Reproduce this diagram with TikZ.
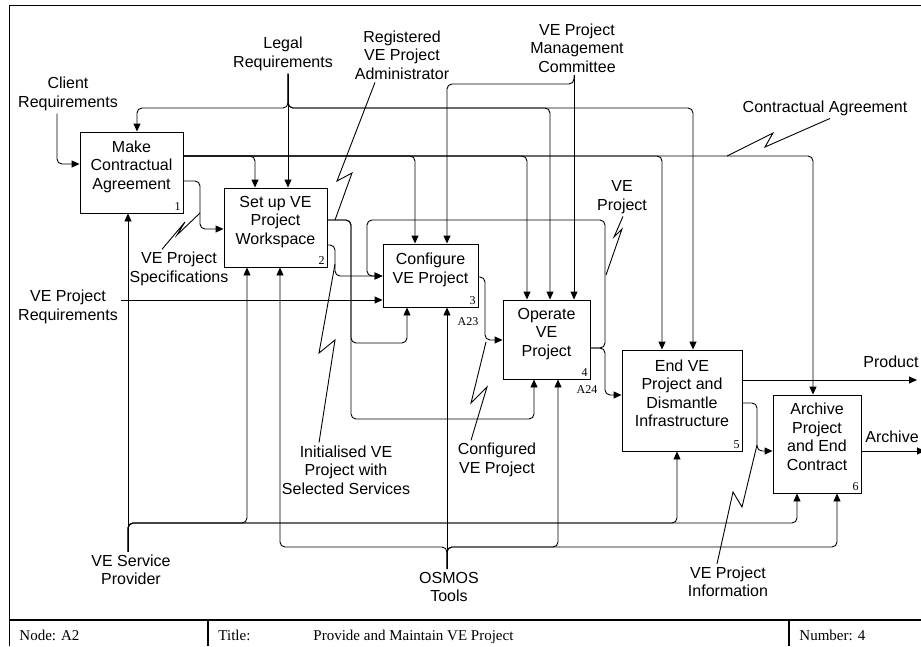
\documentclass[tikz,border=0pt]{standalone}
\usepackage{fontspec}
\setmainfont{Liberation Sans}
\newfontfamily\tnr{Liberation Serif}
\usetikzlibrary{arrows.meta}

\tikzstyle{act}=[draw, align=center, inner sep=0pt, text depth=15pt, font=\fontsize{16}{18.5}\selectfont]
\tikzstyle{lbl}=[align=center, inner sep=0pt, outer sep=3pt, font=\fontsize{16}{18.5}\selectfont]
\tikzstyle{num}=[inner sep=2.5pt, font=\tnr\fontsize{12}{12}\selectfont]
\tikzstyle{tb}=[inner sep=0pt, anchor=base west, font=\tnr\fontsize{15}{15}\selectfont]
\tikzstyle{flow}=[->, rounded corners=5pt]
\tikzstyle{zig}=[sharp corners]

\begin{document}
\begin{tikzpicture}[x=1pt, y=-1pt, line width=0.9pt, >={Triangle[length=8pt,width=7pt]}]
\useasboundingbox (0,0) rectangle (921,646);
\clip (0,0) rectangle (921,646);

\draw (921,5) -- (9,5) -- (9,646);
\draw[line width=1.2pt] (9,620) -- (921,620) (208,620) -- (208,646) (789,620) -- (789,646);
\node[tb] (nd) at (19,640) {Node: A2};
\node[tb] (tl) at (218,640) {Title:};
\node[tb] (tt) at (313,640) {Provide and Maintain VE Project};
\node[tb] (nm) at (799,640) {Number: 4};

\node [act, minimum width=103, minimum height=81] (P1) at (131.5,172.5) {Make\\Contractual\\Agreement};
\node [act, minimum width=103, minimum height=79] (P2) at (275.5,227.5) {Set up VE\\Project\\Workspace};
\node [act, minimum width=95, minimum height=63] (P3) at (430.5,275.5) {Configure\\VE Project};
\node [act, minimum width=87, minimum height=79] (P4) at (546.5,339.5) {Operate\\VE\\Project};
\node [act, minimum width=120, minimum height=101] (P5) at (682,400.5) {End VE\\Project and\\Dismantle\\Infrastructure};
\node [act, minimum width=88, minimum height=98] (P6) at (817,444) {Archive\\Project\\and End\\Contract};

\node [num, anchor=south east] (n1) at (P1.south east) {1};
\node [num, anchor=south east] (n2) at (P2.south east) {2};
\node [num, anchor=south east] (n3) at (P3.south east) {3};
\node [num, anchor=south east] (n4) at (P4.south east) {4};
\node [num, anchor=south east] (n5) at (P5.south east) {5};
\node [num, anchor=south east] (n6) at (P6.south east) {6};
\node [num] (a23) at (468,322) {A23};
\node [num] (a24) at (587,390) {A24};

\node [lbl] (cr) at (68,94) {Client\\Requirements};
\node [lbl] (lr) at (283,54) {Legal\\Requirements};
\node [lbl] (ra) at (402,55) {Registered\\VE Project\\Administrator};
\node [lbl] (mc) at (577,48) {VE Project\\Management\\Committee};
\node [lbl] (ca) at (825,108) {Contractual Agreement};
\node [lbl] (vp) at (622,197) {VE\\Project};
\node [lbl] (sp) at (179,269) {VE Project\\Specifications};
\node [lbl] (vr) at (68,307) {VE Project\\Requirements};
\node [lbl] (iv) at (346,470) {Initialised VE\\Project with\\Selected Services};
\node [lbl] (cv) at (497,460) {Configured\\VE Project};
\node [lbl] (sv) at (131,570) {VE Service\\Provider};
\node [lbl] (os) at (449,587) {OSMOS\\Tools};
\node [lbl] (vi) at (728,582) {VE Project\\Information};
\node [lbl] (pr) at (891,362) {Product};
\node [lbl] (ar) at (892,437) {Archive};
\coordinate (o1) at (917,380);
\coordinate (o2) at (925,451);

\draw[flow] (cr.south -| 57,0) |- (P1.west |- 0,164);
\draw[flow] (vr.east |- 0,300) -- (P3.west |- 0,300);

\draw[flow] (lr.south -| 288,0) -- (288,0 |- P2.north);
\draw[flow] (lr.south -| 288,0) -- (288,108) -| (137,0 |- P1.north);
\draw[flow] (lr.south -| 288,0) -- (288,108) -| (550,0 |- P4.north);
\draw[flow] (lr.south -| 288,0) -- (288,108) -| (693,0 |- P5.north);

\draw[flow] (mc.south -| 574,0) -- (574,0 |- P4.north);
\draw[flow] (mc.south -| 574,0) -- (574,84) -| (447,0 |- P3.north);

\draw[flow] (P1.east |- 0,156) -| (255,0 |- P2.north);
\draw[flow] (P1.east |- 0,156) -| (415,0 |- P3.north);
\draw[flow] (P1.east |- 0,156) -| (527,0 |- P4.north);
\draw[flow] (P1.east |- 0,156) -| (662,0 |- P5.north);
\draw[flow] (P1.east |- 0,156) -| (813,0 |- P6.north);
\draw[zig] (ca.south -| 830,0) -- (765,147) -- (773,133) -- (727,156);

\draw[flow] (P1.east |- 0,181) -| (200,229) -- (P2.west |- 0,229);
\draw[zig] (sp.north -| 162,0) -- (185,222) -- (177,235) -- (200,213);

\draw[flow] (P2.east |- 0,220) -| (351,343) -| (407,0 |- P3.south);
\draw[flow] (P2.east |- 0,220) -| (351,419) -| (534,0 |- P4.south);
\draw[zig] (ra.south -| 375,0) -- (337,181) -- (352,173) -- (335,220);

\draw[flow] (P2.east |- 0,245) -| (335,276) -- (P3.west |- 0,276);
\draw[zig] (iv.north -| 319,0) -- (335,340) -- (319,353) -- (335,264);

\draw[flow] (P3.east |- 0,277) -| (485,340) -- (P4.west |- 0,340);
\draw[zig] (cv.north -| 471,0) -- (487,387) -- (471,403) -- (486,342);

\draw[flow] (P4.east |- 0,348) -| (605,220) -| (367,276) -- (P3.west |- 0,276);
\draw[flow] (P4.east |- 0,348) -| (605,395) -- (P5.west |- 0,395);
\draw[zig] (vp.south -| 623,0) -- (614,237) -- (622,229) -- (606,275);

\draw[flow] (P5.east |- o1) -- (o1);
\draw[flow] (P5.east |- 0,403) -| (757,451) -- (P6.west |- 0,451);
\draw[zig] (vi.north -| 717,0) -- (733,492) -- (742,507) -- (757,445);
\draw[flow] (P6.east |- o2) -- (o2);

\draw[flow] (sv.north -| 128,0) -- (128,0 |- P1.south);
\draw[flow] (sv.north -| 128,0) -- (128,523) -| (247,0 |- P2.south);
\draw[flow] (sv.north -| 128,0) -- (128,523) -| (677,0 |- P5.south);
\draw[flow] (sv.north -| 128,0) -- (128,523) -| (797,0 |- P6.south);

\draw[flow] (os.north -| 447,0) -- (447,0 |- P3.south);
\draw[flow] (os.north -| 447,0) -- (447,547) -| (280,0 |- P2.south);
\draw[flow] (os.north -| 447,0) -- (447,547) -| (558,0 |- P4.south);
\draw[flow] (os.north -| 447,0) -- (447,547) -| (837,0 |- P6.south);
\end{tikzpicture}
\end{document}
